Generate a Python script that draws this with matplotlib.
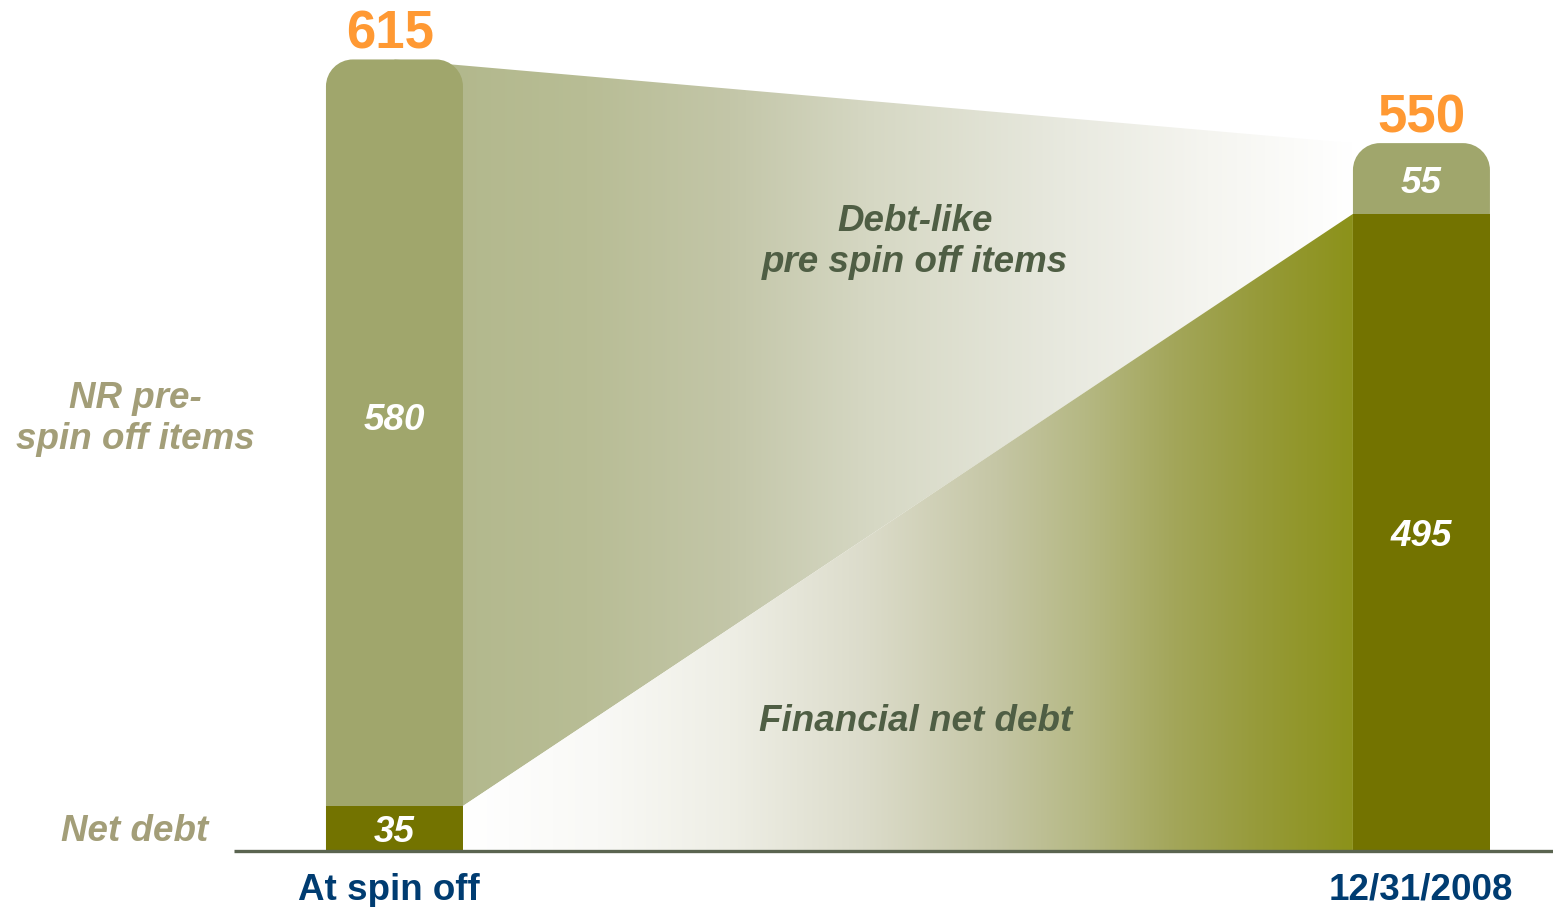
import numpy as np
import matplotlib
matplotlib.use("Agg")
import matplotlib.pyplot as plt
from matplotlib.path import Path
from matplotlib.patches import PathPatch, Rectangle
from matplotlib.colors import LinearSegmentedColormap

plt.rcParams['font.family'] = ['Liberation Sans', 'DejaVu Sans']

# debt bridge: spin off vs year end
categories = ["At spin off", "12/31/2008"]
net_debt = [35, 495]
pre_spin_items = [580, 55]
totals = [615, 550]

light = "#a0a66c"
dark = "#737300"
orange = "#ff9933"
navy = "#003c71"
mid_text = "#4f5e44"
side_text = "#a39e78"

fig = plt.figure(figsize=(15.53, 9.07), dpi=100)
ax = fig.add_axes([0, 0, 1, 1])
ax.set_xlim(-0.3841, 1.1281)
ax.set_ylim(-43.5, 661.2)
ax.axis("off")

W = 0.1334
xs = np.arange(len(categories))

# corner radius in data units (x and y scales differ)
rx, ry = 27 / 1027, 27 / 1.287


def rounded_top(x0, x1, top):
    k = 0.5523
    verts = [(x0, 0), (x0, top - ry),
             (x0, top - ry + k * ry), (x0 + rx - k * rx, top), (x0 + rx, top),
             (x1 - rx, top),
             (x1 - rx + k * rx, top), (x1, top - ry + k * ry), (x1, top - ry),
             (x1, 0), (x0, 0)]
    codes = [Path.MOVETO, Path.LINETO,
             Path.CURVE4, Path.CURVE4, Path.CURVE4,
             Path.LINETO,
             Path.CURVE4, Path.CURVE4, Path.CURVE4,
             Path.LINETO, Path.CLOSEPOLY]
    return Path(verts, codes)


def gradient_fill(verts, stops, zorder):
    cmap = LinearSegmentedColormap.from_list("g", stops)
    xa = min(v[0] for v in verts)
    xb = max(v[0] for v in verts)
    grad = np.linspace(0, 1, 512).reshape(1, -1)
    im = ax.imshow(grad, cmap=cmap, extent=[xa, xb, 0, 661], aspect="auto",
                   interpolation="bicubic", zorder=zorder)
    poly = PathPatch(Path(verts + [verts[0]], closed=True), fc="none", ec="none")
    ax.add_patch(poly)
    im.set_clip_path(poly)


xr0 = xs[0] + W / 2
xl1 = xs[1] - W / 2

# upper band: pre spin off items fading out
upper_stops = [(0.0, "#b0b689"), (0.2, "#b8bd95"), (0.35, "#c3c6a8"),
               (0.5, "#d6d8c4"), (0.7, "#e8e9df"), (0.85, "#f5f5f0"),
               (1.0, "#ffffff")]
gradient_fill([(xs[0], totals[0]), (xl1, totals[1]), (xl1, net_debt[1]),
               (xr0, net_debt[0]), (xs[0], net_debt[0])], upper_stops, 1)

# lower band: financial net debt growing
lower_stops = [(0.0, "#ffffff"), (0.15, "#f9f9f6"), (0.3, "#eeeee5"),
               (0.45, "#dcdccb"), (0.6, "#c5c6a5"), (0.7, "#b5b883"),
               (0.8, "#a3a65a"), (0.9, "#969a38"), (1.0, "#8c921a")]
gradient_fill([(xr0, net_debt[0]), (xl1, net_debt[1]), (xl1, 0), (xr0, 0)],
              lower_stops, 1)

lbl = dict(color="white", fontsize=26.5, fontweight="bold", style="italic",
           ha="center", va="center", zorder=5)
dy = 3.5  # nudge for text descent

for i, x in enumerate(xs):
    ax.add_patch(PathPatch(rounded_top(x - W / 2, x + W / 2, totals[i]),
                           fc=light, ec="none", zorder=3))
    ax.add_patch(Rectangle((x - W / 2, 0), W, net_debt[i], fc=dark, ec="none",
                           zorder=4))
    ax.text(x, net_debt[i] / 2 - dy, str(net_debt[i]), **lbl)
    off = 13 if i == 0 else 0
    ax.text(x, net_debt[i] + pre_spin_items[i] / 2 + off - dy,
            str(pre_spin_items[i]), **lbl)
    sx = -0.004 if i == 0 else 0
    ax.text(x + sx, totals[i] + 23 - dy, str(totals[i]), color=orange,
            fontsize=38, fontweight="bold", ha="center", va="center", zorder=5)
    ax.text(x + sx - 0.001, -27 - dy, categories[i], color=navy, fontsize=26.5,
            fontweight="bold", ha="center", va="center", zorder=5)

# baseline
ax.plot([-0.156, 1.1281], [0, 0], color="#5a6450", lw=2.4, zorder=6,
        solid_capstyle="butt")

ax.text(0.507, 476.7 - dy, "Debt-like\npre spin off items", color=mid_text,
        fontsize=26.5, fontweight="bold", style="italic", ha="center",
        va="center", linespacing=1.2, zorder=5)
ax.text(0.507, 104 - dy, "Financial net debt", color=mid_text, fontsize=26.5,
        fontweight="bold", style="italic", ha="center", va="center", zorder=5)
ax.text(-0.2527, 339 - dy, "NR pre-\nspin off items", color=side_text,
        fontsize=26.5, fontweight="bold", style="italic", ha="center",
        va="center", linespacing=1.2, zorder=5)
ax.text(-0.2527, 18.6 - dy, "Net debt", color=side_text, fontsize=26.5,
        fontweight="bold", style="italic", ha="center", va="center", zorder=5)

fig.savefig("out.png", dpi=100)
